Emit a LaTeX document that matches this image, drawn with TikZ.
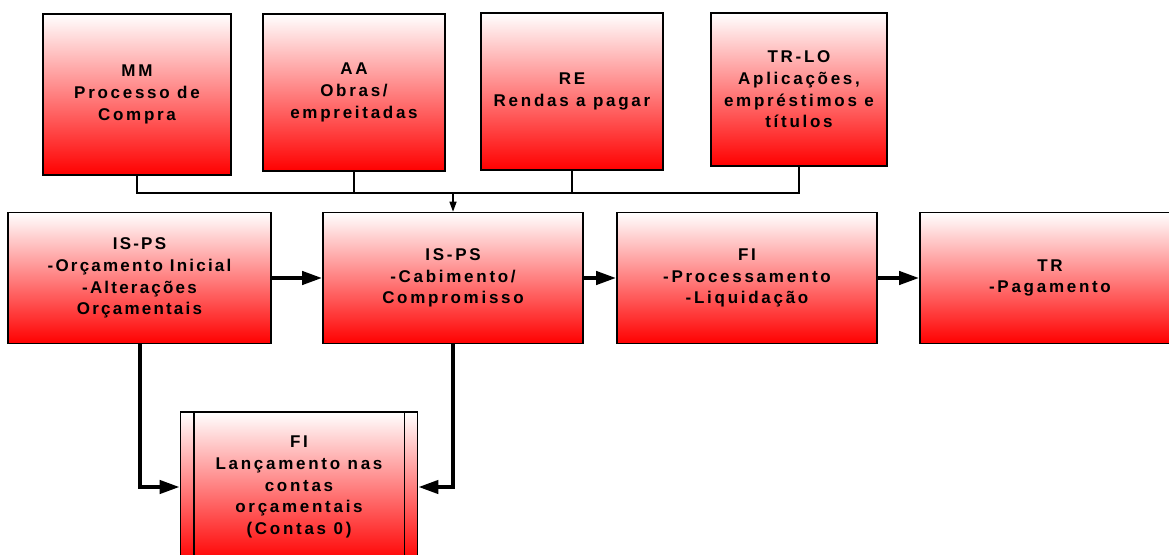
\documentclass[tikz,border=0pt]{standalone}
\usepackage{fontspec}
\setmainfont{Liberation Sans}[LetterSpace=16]
\newfontfamily\tightfont{Liberation Sans}[LetterSpace=13]
\usetikzlibrary{arrows.meta}
\begin{document}
\begin{tikzpicture}[x=1pt,y=-1pt,
  box/.style={draw=black, line width=1.6pt, rectangle, top color=white, bottom color=red,
    align=center, inner sep=0pt, font=\bfseries\fontsize{17}{21.7}\selectfont},
  thin/.style={line width=1.4pt},
  thinarrow/.style={line width=1.4pt, -{Triangle[length=10pt,width=7pt]}},
  thickarrow/.style={line width=4pt, -{Triangle[length=20pt,width=13pt]}}
]
\useasboundingbox (0,0) rectangle (1169,554);
\clip (0,0) rectangle (1169,554);
% top row
\node[box, minimum width=188pt, minimum height=161pt] (mm) at (137,94.5) {MM\\Processo de\\Compra};
\node[box, minimum width=182pt, minimum height=157pt] (aa) at (354,92.5) {AA\\Obras/\\empreitadas};
\node[box, minimum width=182pt, minimum height=157pt] (re) at (572,91.5) {RE\\Rendas a pagar};
\node[box, minimum width=176pt, minimum height=153pt] (trlo) at (799,89.5) {TR-LO\\Aplicações,\\empréstimos e\\títulos};
% middle row
\node[box, minimum width=263pt, minimum height=131pt,
  font=\tightfont\bfseries\fontsize{17}{21.7}\selectfont] (isps1) at (139.5,278) {IS-PS\\-Orçamento Inicial\\-Alterações\\Orçamentais};
\node[box, minimum width=260pt, minimum height=131pt] (isps2) at (453,278) {IS-PS\\-Cabimento/\\Compromisso};
\node[box, minimum width=260pt, minimum height=131pt] (fi) at (747,278) {FI\\-Processamento\\-Liquidação};
\node[box, minimum width=260pt, minimum height=131pt] (tr) at (1050,278) {TR\\-Pagamento};
% bottom
\node[box, minimum width=237pt, minimum height=150pt] (bfi) at (299,487) {FI\\Lançamento nas\\contas\\orçamentais\\(Contas 0)};
\draw[line width=1.6pt] ([xshift=14pt]bfi.north west) -- ([xshift=14pt]bfi.south west);
\draw[line width=1.6pt] ([xshift=-14pt]bfi.north east) -- ([xshift=-14pt]bfi.south east);
% bus
\coordinate (bus) at (453,193);
\draw[thin] (mm.south) |- (bus);
\draw[thin] (trlo.south) |- (bus);
\draw[thin] (aa.south) -- (aa.south |- bus);
\draw[thin] (re.south) -- (re.south |- bus);
\draw[thinarrow] (bus) -- (isps2.north);
% thick arrows
\draw[thickarrow] (isps1.east) -- (isps2.west);
\draw[thickarrow] (isps2.east) -- (fi.west);
\draw[thickarrow] (fi.east) -- (tr.west);
\draw[thickarrow] (isps1.south) |- (bfi.west);
\draw[thickarrow] (isps2.south) |- (bfi.east);
\end{tikzpicture}
\end{document}
